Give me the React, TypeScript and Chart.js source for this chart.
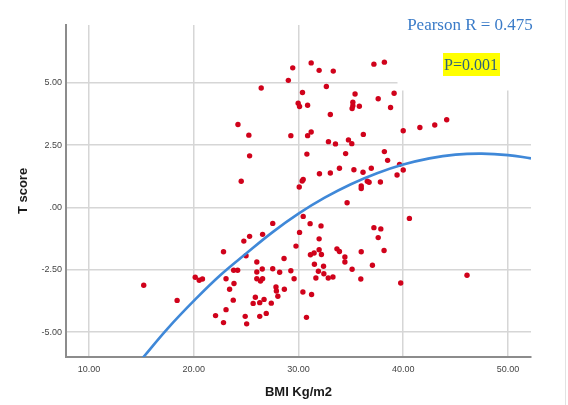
import React, { useEffect, useRef } from "react";
import { Chart, registerables } from "chart.js";

Chart.register(...registerables);

// Scatter data: BMI (Kg/m2) vs T score
const BMI = [
  29.45, 31.21, 31.97, 33.32, 37.2, 38.2, 29.03, 26.44, 32.66, 30.38,
  35.4, 39.13, 29.97, 30.1, 30.87, 35.19, 35.19, 35.12, 35.81, 37.61,
  38.79, 33.04, 24.22, 44.15, 43.01, 41.59, 40.0, 25.26, 29.27, 31.21,
  30.87, 36.19, 32.86, 33.53, 34.77, 35.09, 25.33, 30.8, 34.5, 38.2,
  38.51, 39.65, 33.91, 35.29, 36.95, 40.0, 32.0, 33.04, 36.16, 39.41,
  24.53, 30.45, 30.35, 36.57, 36.74, 37.82, 35.99, 35.99, 30.07, 34.64,
  40.59, 30.45, 27.54, 31.11, 32.15, 37.2, 37.86, 30.1, 26.57, 25.33,
  24.78, 31.97, 37.61, 29.76, 33.67, 33.91, 22.84, 31.97, 31.49, 31.14,
  32.19, 35.99, 38.17, 24.99, 34.43, 28.62, 26.02, 34.43, 37.06, 31.52,
  32.39, 26.54, 27.54, 23.81, 24.19, 35.12, 29.27, 26.02, 28.2, 31.9,
  32.42, 46.09, 20.14, 20.52, 20.83, 23.08, 26.02, 26.57, 26.37, 29.58,
  31.66, 32.84, 33.29, 35.95, 39.76, 15.22, 23.84, 27.85, 23.42, 27.89,
  28.65, 30.42, 31.25, 28.03, 25.88, 18.41, 23.77, 26.71, 25.67, 26.3,
  27.4, 23.08, 26.92, 22.08, 24.91, 26.3, 30.76, 22.84, 25.05,
];
const TSCORE = [
  5.6, 5.8, 5.5, 5.47, 5.75, 5.83, 5.1, 4.79, 4.85, 4.61,
  4.55, 4.58, 4.18, 4.05, 4.1, 4.22, 4.08, 3.97, 4.06, 4.36,
  4.01, 3.73, 3.33, 3.52, 3.31, 3.21, 3.08, 2.9, 2.88, 3.03,
  2.88, 2.93, 2.64, 2.55, 2.71, 2.56, 2.07, 2.14, 2.16, 2.24,
  1.89, 1.73, 1.57, 1.51, 1.57, 1.5, 1.35, 1.38, 1.41, 1.3,
  1.05, 1.12, 1.06, 1.05, 1.01, 1.02, 0.86, 0.76, 0.82, 0.19,
  -0.44, -0.36, -0.64, -0.65, -0.74, -0.81, -0.86, -1.0, -1.08, -1.16,
  -1.35, -1.26, -1.21, -1.55, -1.66, -1.77, -1.78, -1.7, -1.83, -1.9,
  -1.89, -1.78, -1.73, -1.94, -1.99, -2.05, -2.19, -2.19, -2.32, -2.28,
  -2.36, -2.47, -2.46, -2.52, -2.52, -2.48, -2.54, -2.59, -2.6, -2.56,
  -2.66, -2.72, -2.8, -2.92, -2.87, -2.86, -2.86, -2.86, -2.95, -2.86,
  -2.83, -2.83, -2.79, -2.87, -3.03, -3.12, -3.05, -3.19, -3.28, -3.35,
  -3.28, -3.39, -3.49, -3.56, -3.6, -3.73, -3.72, -3.69, -3.85, -3.82,
  -3.84, -4.1, -4.25, -4.34, -4.37, -4.37, -4.41, -4.62, -4.67,
];

// Fit curve
const FIT_X = [15.0, 17.5, 20, 22.5, 25, 27.5, 30, 32.5, 35, 37.5, 40, 42.5, 45, 47.5, 50, 52.2];
const FIT_Y = [-6.1, -4.86, -3.75, -2.73, -1.85, -1.0, -0.25, 0.39, 0.93, 1.37, 1.72, 1.97, 2.12, 2.16, 2.1, 1.97];

const X_TICKS = [10, 20, 30, 40, 50];
const Y_TICKS = [-5, -2.5, 0, 2.5, 5];

const X_TITLE = "BMI Kg/m2";
const Y_TITLE = "T score";
const R_LABEL = "Pearson R = 0.475";
const P_LABEL = "P=0.001";

const overlayPlugin = {
  id: "overlay",
  beforeDatasetsDraw(chart: any) {
    const ctx = chart.ctx;
    ctx.save();
    ctx.fillStyle = "#ffffff";
    ctx.fillRect(397.5, 0, 160, 90.5);
    ctx.restore();
  },
  afterDraw(chart: any) {
    const ctx = chart.ctx;
    const a = chart.chartArea;
    ctx.save();
    // axis titles
    ctx.fillStyle = "#1a1a1a";
    ctx.font = 'bold 13px "Liberation Sans", Arial, sans-serif';
    ctx.textAlign = "center";
    ctx.textBaseline = "middle";
    ctx.fillText(X_TITLE, (a.left + a.right) / 2, 392);
    ctx.save();
    ctx.translate(23, (a.top + a.bottom) / 2);
    ctx.rotate(-Math.PI / 2);
    ctx.fillText(Y_TITLE, 0, 0);
    ctx.restore();

    // annotation
    ctx.font = '17px "Liberation Serif", "Times New Roman", serif';
    ctx.fillStyle = "#3a7bc8";
    ctx.fillText(R_LABEL, 470, 26);

    ctx.fillStyle = "#ffff00";
    ctx.fillRect(443, 53, 57, 23);
    ctx.font = '16px "Liberation Serif", "Times New Roman", serif';
    ctx.fillStyle = "#2e6378";
    ctx.fillText(P_LABEL, 471, 65.5);

    // faint frame edge
    ctx.strokeStyle = "#e2e2e2";
    ctx.lineWidth = 1;
    ctx.beginPath();
    ctx.moveTo(565.5, 0);
    ctx.lineTo(565.5, 405);
    ctx.stroke();
    ctx.restore();
  },
};

export default function App() {
  const ref = useRef<HTMLCanvasElement | null>(null);

  useEffect(() => {
    if (!ref.current) return;
    const points = BMI.map((x, i) => ({ x, y: TSCORE[i] }));
    const fit = FIT_X.map((x, i) => ({ x, y: FIT_Y[i] }));
    const chart = new Chart(ref.current, {
      type: "scatter",
      data: {
        datasets: [
          {
            label: "fit",
            data: fit,
            showLine: true,
            borderColor: "#3f88d8",
            borderWidth: 2.6,
            pointRadius: 0,
            tension: 0.4,
            fill: false,
            order: 0,
          },
          {
            label: "T score",
            data: points,
            backgroundColor: "#d0021b",
            borderColor: "#d0021b",
            borderWidth: 0,
            pointRadius: 2.7,
            order: 1,
          },
        ],
      },
      options: {
        animation: false,
        responsive: false,
        maintainAspectRatio: false,
        layout: { padding: { top: 25, right: 37, left: 0, bottom: 0 } },
        plugins: {
          legend: { display: false },
          tooltip: { enabled: false },
          title: { display: false },
        },
        scales: {
          x: {
            type: "linear",
            min: 7.8,
            max: 52.2,
            afterBuildTicks: (s: any) => {
              s.ticks = X_TICKS.map((v) => ({ value: v }));
            },
            afterFit: (s: any) => {
              s.height = 48;
            },
            grid: { color: "#d6d6d6", lineWidth: 1.5, drawTicks: false },
            border: { color: "#8c8c8c", width: 2 },
            ticks: {
              padding: 7,
              color: "#444444",
              font: { family: '"Liberation Sans", Arial, sans-serif', size: 9 },
              maxRotation: 0,
              autoSkip: false,
              callback: (v: any) => Number(v).toFixed(2),
            },
          },
          y: {
            type: "linear",
            min: -6,
            max: 7.32,
            afterBuildTicks: (s: any) => {
              s.ticks = Y_TICKS.map((v) => ({ value: v }));
            },
            afterFit: (s: any) => {
              s.width = 66;
            },
            grid: { color: "#d6d6d6", lineWidth: 1.5, drawTicks: false },
            border: { color: "#8c8c8c", width: 2 },
            ticks: {
              padding: 4,
              color: "#444444",
              font: { family: '"Liberation Sans", Arial, sans-serif', size: 9 },
              autoSkip: false,
              callback: (v: any) => (Number(v) === 0 ? ".00" : Number(v).toFixed(2)),
            },
          },
        },
      },
      plugins: [overlayPlugin],
    } as any);
    return () => chart.destroy();
  }, []);

  return (
    <div style={{ position: "absolute", left: 0, top: 0, width: 568, height: 405, background: "#fff" }}>
      <canvas ref={ref} width={568} height={405} style={{ display: "block" }} />
    </div>
  );
}
